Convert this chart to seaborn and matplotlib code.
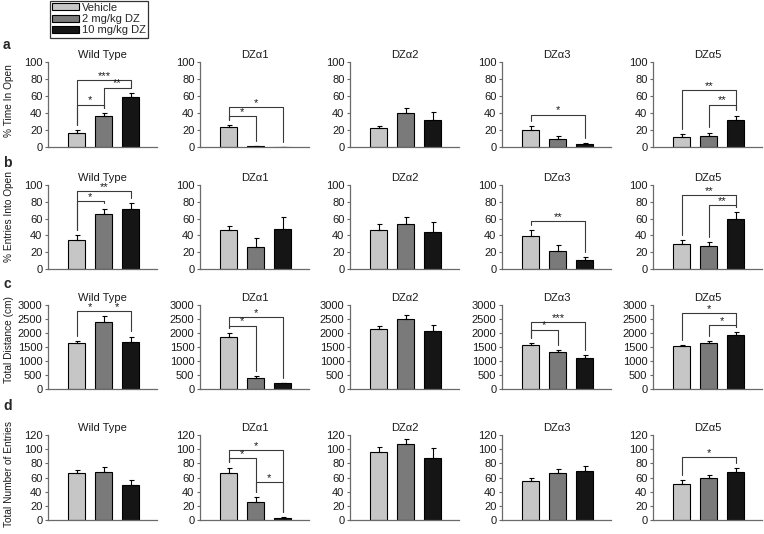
import numpy as np
import pandas as pd
import matplotlib
matplotlib.use("Agg")
import matplotlib.pyplot as plt
from matplotlib.patches import Patch
import seaborn as sns

# ---------------- data ----------------
doses = ["Vehicle", "2 mg/kg DZ", "10 mg/kg DZ"]
groups = ["Wild Type", "DZα1", "DZα2", "DZα3", "DZα5"]
row_letters = ["a", "b", "c", "d"]
row_ylabels = ["% Time In Open", "% Entries Into Open", "Total Distance (cm)", "Total Number of Entries"]

time_open_mean = [[17, 36, 59], [23, 1, 0], [22, 40, 32], [20.5, 10, 3], [11.5, 13, 32]]
time_open_sem = [[3, 4, 5], [3, 0.5, 0], [3, 6, 9], [4.5, 3, 1.2], [3.5, 4, 5]]

entries_open_mean = [[34, 65, 71], [46, 26, 48], [46.5, 53.5, 44.5], [39, 22, 11], [30, 27, 60]]
entries_open_sem = [[6, 7, 8], [5, 11, 14], [6.5, 8.5, 11], [7, 6, 3.5], [4.5, 5, 7.5]]

distance_mean = [[1636, 2384, 1684], [1874, 400, 200], [2130, 2494, 2070], [1565, 1306, 1094], [1545, 1635, 1941]]
distance_sem = [[85, 220, 190], [120, 80, 25], [115, 140, 210], [80, 80, 106], [35, 85, 95]]

entries_total_mean = [[66, 68, 49.5], [67, 25, 3], [96, 107, 88], [55.5, 66.5, 69.5], [51, 59, 68]]
entries_total_sem = [[4.5, 7, 7], [7, 8, 1], [7, 7, 13], [4.5, 5.5, 7], [5, 4, 5]]

row_means = [time_open_mean, entries_open_mean, distance_mean, entries_total_mean]
row_sems = [time_open_sem, entries_open_sem, distance_sem, entries_total_sem]
row_ymax = [100, 100, 3000, 120]
row_ystep = [20, 20, 500, 20]

# significance brackets: (bar i, bar j, bracket height, label)
sig_time_open = [[(0, 1, 50, "*"), (0, 2, 79, "***"), (1, 2, 70, "**")],
                 [(0, 1, 36, "*"), (0, 2, 47, "*")],
                 [],
                 [(0, 2, 38, "*")],
                 [(0, 2, 67, "**"), (1, 2, 50, "**")]]
sig_entries_open = [[(0, 1, 81, "*"), (0, 2, 93, "**")],
                    [], [],
                    [(0, 2, 57, "**")],
                    [(0, 2, 88, "**"), (1, 2, 76, "**")]]
sig_distance = [[(0, 1, 2790, "*"), (1, 2, 2790, "*")],
                [(0, 1, 2265, "*"), (0, 2, 2560, "*")],
                [],
                [(0, 1, 2120, "*"), (0, 2, 2380, "***")],
                [(0, 2, 2720, "*"), (1, 2, 2290, "*")]]
sig_entries_total = [[],
                     [(0, 1, 87, "*"), (0, 2, 99, "*"), (1, 2, 54, "*")],
                     [], [],
                     [(0, 2, 89, "*")]]
row_sigs = [sig_time_open, sig_entries_open, sig_distance, sig_entries_total]

# ---------------- style ----------------
sns.set_style("ticks")
plt.rcParams["font.family"] = ["Liberation Sans", "DejaVu Sans"]
plt.rcParams["axes.linewidth"] = 0.9

colors = ["#c6c6c6", "#7a7a7a", "#151515"]
palette = dict(zip(doses, colors))
spine_col = "#6a6a6a"
fs = 8

W, H = 764, 534
fig = plt.figure(figsize=(W / 100, H / 100), dpi=100)

col_x = [48, 200, 350, 502, 653]
ax_w = 109
row_y = [(62, 147), (185, 269), (305, 389), (435, 520)]
letter_y = [45, 163, 284, 406]
ylabel_y = [101, 216, 340, 474]
ylabel_fs = 7.3

for r in range(4):
    top, bot = row_y[r]
    ymax = row_ymax[r]
    for c in range(5):
        ax = fig.add_axes([col_x[c] / W, 1 - bot / H, ax_w / W, (bot - top) / H])
        df = pd.DataFrame({"dose": doses, "value": row_means[r][c]})
        sns.barplot(data=df, x="dose", y="value", hue="dose", order=doses, hue_order=doses,
                    palette=palette, width=0.63, edgecolor="black", linewidth=0.8,
                    errorbar=None, legend=False, ax=ax)
        sem = np.array(row_sems[r][c], dtype=float)
        ax.errorbar(np.arange(3), row_means[r][c], yerr=[np.zeros(3), sem], fmt="none",
                    ecolor="black", elinewidth=0.8, capsize=1.8, capthick=0.8)
        ax.set_xlim(-1.07, 2.97)
        ax.set_ylim(0, ymax)
        ax.set_yticks(np.arange(0, ymax + 1, row_ystep[r]))
        ax.set_xticks([])
        ax.set_xlabel("")
        ax.set_ylabel("")
        for s in ["top", "right"]:
            ax.spines[s].set_visible(False)
        for s in ["left", "bottom"]:
            ax.spines[s].set_color(spine_col)
            ax.spines[s].set_linewidth(0.9)
        ax.tick_params(axis="y", labelsize=fs, length=2.5, width=0.8, color=spine_col,
                       pad=1.5, labelcolor="#1a1a1a")
        ax.set_title(groups[c], fontsize=fs, pad=3, color="#1a1a1a")
        # significance brackets
        tops = np.array(row_means[r][c]) + sem
        gap = 0.06 * ymax
        for (i, j, h, lab) in row_sigs[r][c]:
            xs = [i, i, j, j]
            ys = [tops[i] + gap, h, h, tops[j] + gap]
            ax.plot(xs, ys, color="#3a3a3a", lw=0.8, clip_on=False)
            ax.text((i + j) / 2, h - 0.01 * ymax, lab, ha="center", va="bottom",
                    fontsize=8, color="#1a1a1a")
    fig.text(3 / W, 1 - letter_y[r] / H, row_letters[r], fontsize=10, fontweight="bold",
             ha="left", va="center")
    fig.text(9 / W, 1 - ylabel_y[r] / H, row_ylabels[r], fontsize=ylabel_fs, rotation=90,
             ha="center", va="center", color="#1a1a1a")

handles = [Patch(facecolor=col, edgecolor="black", linewidth=0.8) for col in colors]
leg = fig.legend(handles, doses, loc="upper left", bbox_to_anchor=(50 / W, 1 - 0.5 / H),
                 fontsize=fs, frameon=True, fancybox=False, edgecolor="black",
                 handlelength=2.4, handleheight=0.6, handletextpad=0.3, labelspacing=0.12,
                 borderpad=0.2, borderaxespad=0.0)
leg.get_frame().set_linewidth(0.9)

fig.savefig("out.png", dpi=100)
